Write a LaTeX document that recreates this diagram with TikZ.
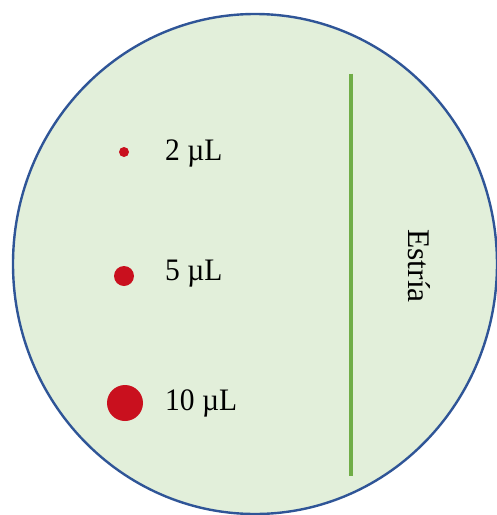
\documentclass[tikz,border=0pt]{standalone}
\usepackage{fontspec}
\usetikzlibrary{shapes.geometric}
\setmainfont{Liberation Serif}
\definecolor{plateblue}{HTML}{2F5597}
\definecolor{platefill}{HTML}{E2EFDA}
\definecolor{dotred}{HTML}{C9101E}
\definecolor{streakgreen}{HTML}{70AD47}
\tikzset{
  dotmark/.style={circle, fill=dotred, inner sep=0pt},
  vol/.style={anchor=base west, font=\fontsize{29.5}{32}\selectfont, inner sep=0pt, yscale=1.06},
}
\begin{document}
\begin{tikzpicture}[x=1pt,y=-1pt]
\useasboundingbox (0,0) rectangle (497,515);
\node[ellipse, draw=plateblue, fill=platefill, line width=2.4pt, minimum width=484pt, minimum height=500pt, inner sep=0pt] (plate) at (255,264) {};
\coordinate (s1) at (350.8,73.5);
\coordinate (s2) at (350.8,476);
\draw[streakgreen, line width=4pt] (s1) -- (s2);
\node[rotate=-90, font=\fontsize{31.5}{34}\selectfont, inner sep=0pt] (estria) at (419.5,266) {Estría};
\node[dotmark, minimum size=10pt] (d2) at (124,152) {};
\node[dotmark, minimum size=20pt] (d5) at (124,276) {};
\node[dotmark, minimum size=36pt] (d10) at (125,403) {};
\node[vol] (l2) at (165,160) {2 µL};
\node[vol] (l5) at (165,280) {5 µL};
\node[vol] (l10) at (165,410) {10 µL};
\end{tikzpicture}
\end{document}
